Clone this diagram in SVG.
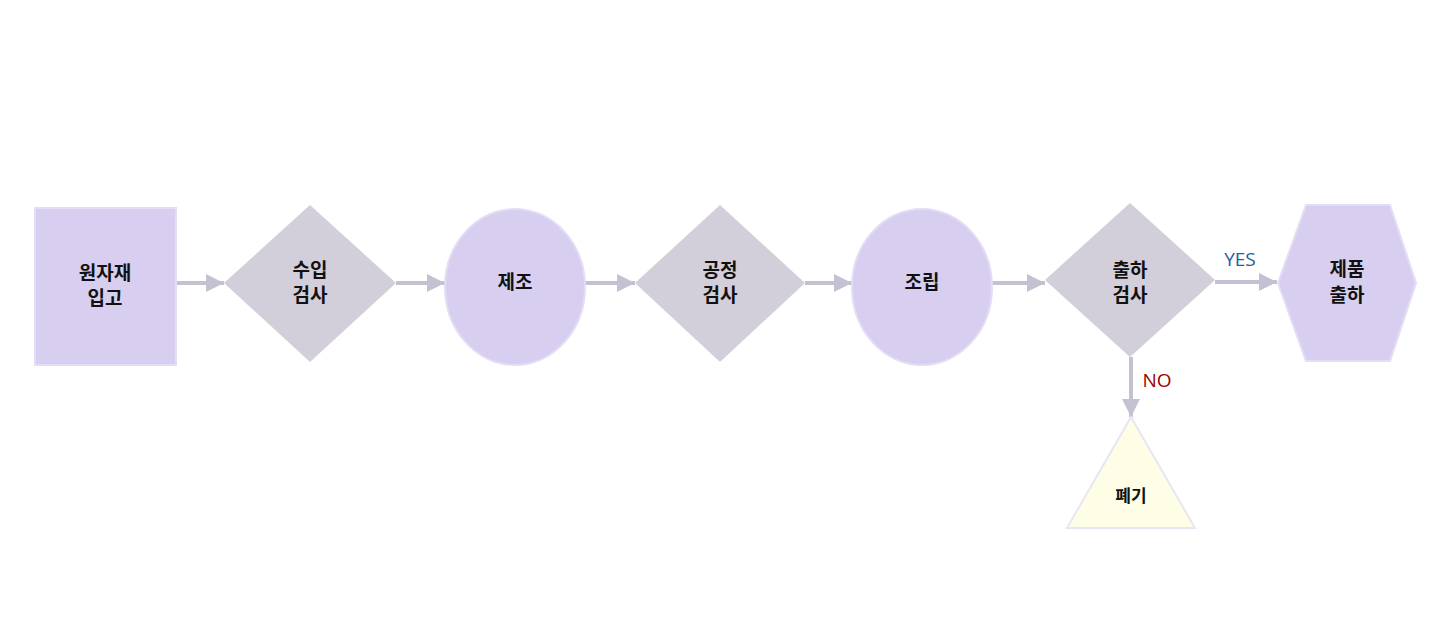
<svg xmlns="http://www.w3.org/2000/svg" width="1441" height="626" viewBox="0 0 1441 626">
<style>
.lbl{font-family:"Noto Sans CJK KR","Noto Sans",sans-serif;font-weight:bold;font-size:19px;fill:#111;text-anchor:middle}
.purple{fill:#d8cff0;stroke:#e4ddf6;stroke-width:2}
.gray{fill:#d2ceda}
.c{stroke:#c4c2d2;stroke-width:4;fill:none;marker-end:url(#ah)}
.yn{font-family:"Open Sans","Noto Sans",sans-serif;font-size:19px;text-anchor:middle}
</style>
<defs><marker id="ah" viewBox="0 0 10 10" refX="10" refY="5" markerWidth="4.5" markerHeight="4.5" orient="auto" markerUnits="strokeWidth"><path d="M0,0L10,5L0,10z" fill="#c4c2d2"/></marker></defs>
<rect width="1441" height="626" fill="#fff"/>
<g id="connectors">
<path class="c" d="M176,283H224"/>
<path class="c" d="M396,283H445"/>
<path class="c" d="M585,283H635"/>
<path class="c" d="M805,283H852"/>
<path class="c" d="M992,283H1045"/>
<path class="c" d="M1215,282H1277"/>
<path class="c" d="M1131,357V417"/>
<text class="yn" x="1240" y="266" fill="#1f5f9a">YES</text>
<text class="yn" x="1157" y="387" fill="#a00000">NO</text>
</g>
<g id="n1"><rect class="purple" x="35" y="208" width="141" height="157"/><text class="lbl" x="105" y="280">원자재</text><text class="lbl" x="105" y="305">입고</text></g>
<g id="n2"><polygon class="gray" points="310,205 396,283 310,362 224,283"/><text class="lbl" x="310" y="277">수입</text><text class="lbl" x="310" y="302">검사</text></g>
<g id="n3"><ellipse class="purple" cx="515" cy="287" rx="70" ry="78"/><text class="lbl" x="515" y="289">제조</text></g>
<g id="n4"><polygon class="gray" points="720,205 805,283 720,362 635,283"/><text class="lbl" x="720" y="277">공정</text><text class="lbl" x="720" y="302">검사</text></g>
<g id="n5"><ellipse class="purple" cx="922" cy="287" rx="70" ry="78"/><text class="lbl" x="922" y="289">조립</text></g>
<g id="n6"><polygon class="gray" points="1130,203 1215,280 1130,357 1045,280"/><text class="lbl" x="1130" y="277">출하</text><text class="lbl" x="1130" y="302">검사</text></g>
<g id="n7"><polygon class="purple" points="1278,283 1306,205 1390,205 1416,283 1390,361 1306,361"/><text class="lbl" x="1347" y="276">제품</text><text class="lbl" x="1347" y="302">출하</text></g>
<g id="n8"><polygon points="1131,417 1195,528 1067,528" fill="#fefde6" stroke="#e8e6f2" stroke-width="2"/><text class="lbl" x="1131" y="502" style="font-size:17px">폐기</text></g>
</svg>
